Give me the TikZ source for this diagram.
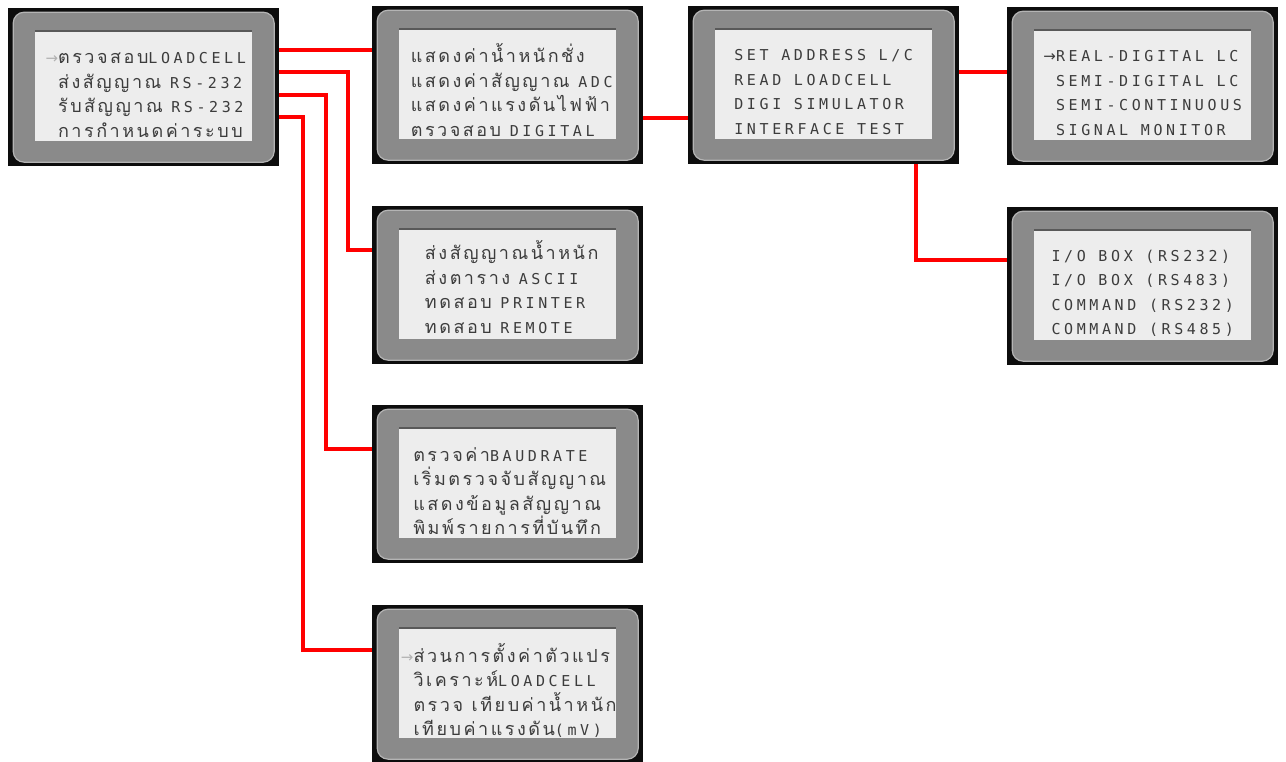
\documentclass[tikz,border=0pt]{standalone}
\usepackage{fontspec}
\newfontfamily\lcdthai[Script=Thai,LetterSpace=14]{Loma}
\newfontfamily\lcdlat[LetterSpace=24]{DejaVu Sans Mono}
\newfontfamily\symfont{DejaVu Sans}
\newcommand{\lat}[1]{{\lcdlat\fontsize{15}{24.5}\selectfont #1}}
\newcommand{\cursor}{{\symfont\fontsize{15}{24.5}\selectfont\color{black!30}→}}
\newcommand{\darkcursor}{{\symfont\fontsize{15}{24.5}\selectfont →}}
\newcommand{\gap}{\hphantom{\cursor}}
\definecolor{lcdframe}{HTML}{8A8A8A}
\definecolor{lcdrim}{HTML}{B4B4B4}
\definecolor{lcdscreen}{HTML}{EDEDED}
\definecolor{lcdink}{HTML}{3C3C3C}
\tikzset{
  lcd/.style={rectangle, fill=black!95, inner sep=0pt, anchor=north west,
    minimum width=271pt, minimum height=158pt,
    path picture={
      \fill[lcdframe, draw=lcdrim, line width=1.2pt, rounded corners=11pt]
        ([shift={(5pt,-4pt)}]path picture bounding box.north west) rectangle
        ([shift={(-5pt,4pt)}]path picture bounding box.south east);
      \fill[lcdscreen]
        ([shift={(27pt,-23pt)}]path picture bounding box.north west) rectangle
        ([shift={(-27pt,25pt)}]path picture bounding box.south east);
      \draw[black!65, line width=1.5pt]
        ([shift={(27pt,-23pt)}]path picture bounding box.north west) --
        ([shift={(-27pt,-23pt)}]path picture bounding box.north east);
    }},
  lcdtext/.style={align=left, text=lcdink, inner sep=0pt,
    font=\lcdthai\fontsize{18}{24.5}\selectfont},
  link/.style={red, line width=4pt},
}

\begin{document}
\begin{tikzpicture}[x=1pt,y=-1pt]
  \useasboundingbox (0,0) rectangle (1286,762);
  % screens
  \node[lcd] (mainmenu) at (8,8) {};
  \node[lcd] (loadmenu) at (372,6) {};
  \node[lcd] (sendmenu) at (372,206) {};
  \node[lcd] (rs232menu) at (372,405) {};
  \node[lcd] (setmenu) at (372,605) {};
  \node[lcd] (digimenu) at (688,6) {};
  \node[lcd] (lcmenu) at (1007,7) {};
  \node[lcd] (ifacemenu) at (1007,207) {};
  % texts
  \node[lcdtext] (maintext) at ([xshift=2pt,yshift=-8pt]mainmenu.center)
  {\cursor ตรวจสอบ\lat{LOADCELL}\\ \gap ส่งสัญญาณ \lat{RS-232}\\
   \gap รับสัญญาณ \lat{RS-232}\\ \gap การกำหนดค่าระบบ};
  \node[lcdtext] (loadtext) at ([xshift=4pt,yshift=-5pt]loadmenu.center)
  {แสดงค่าน้ำหนักชั่ง\\ แสดงค่าสัญญาณ \lat{ADC}\\
   แสดงค่าแรงดันไฟฟ้า\\ ตรวจสอบ \lat{DIGITAL}};
  \node[lcdtext] (sendtext) at ([xshift=4pt,yshift=-2pt]sendmenu.center)
  {ส่งสัญญาณน้ำหนัก\\ ส่งตาราง \lat{ASCII}\\
   ทดสอบ \lat{PRINTER}\\ ทดสอบ \lat{REMOTE}};
  \node[lcdtext] (rs232text) at ([xshift=2pt,yshift=-7pt]rs232menu.center)
  {ตรวจค่า\lat{BAUDRATE}\\ เริ่มตรวจจับสัญญาณ\\
   แสดงข้อมูลสัญญาณ\\ พิมพ์รายการที่บันทึก};
  \node[lcdtext] (settext) at ([xshift=1pt,yshift=-6pt]setmenu.center)
  {\cursor ส่วนการตั้งค่าตัวแปร\\ \gap วิเคราะห์\lat{LOADCELL}\\
   \gap ตรวจ เทียบค่าน้ำหนัก\\ \gap เทียบค่าแรงดัน\lat{(mV)}};
  \node[lcdtext] (digitext) at ([yshift=-7pt]digimenu.center)
  {\lat{SET ADDRESS L/C}\\ \lat{READ LOADCELL}\\
   \lat{DIGI SIMULATOR}\\ \lat{INTERFACE TEST}};
  \node[lcdtext] (lctext) at ([yshift=-7pt]lcmenu.center)
  {\darkcursor\lat{REAL-DIGITAL LC}\\ \gap\lat{SEMI-DIGITAL LC}\\
   \gap\lat{SEMI-CONTINUOUS}\\ \gap\lat{SIGNAL MONITOR}};
  \node[lcdtext] (ifacetext) at ([yshift=-7pt]ifacemenu.center)
  {\lat{I/O BOX (RS232)}\\ \lat{I/O BOX (RS483)}\\
   \lat{COMMAND (RS232)}\\ \lat{COMMAND (RS485)}};
  % links
  \draw[link] ([yshift=37pt]mainmenu.east) -- ([yshift=37pt]mainmenu.east -| loadmenu.west);
  \draw[link] ([yshift=15pt]mainmenu.east) -| ([xshift=-24pt,yshift=35pt]sendmenu.west)
    -- ([yshift=35pt]sendmenu.west);
  \draw[link] ([yshift=-8pt]mainmenu.east) -| ([xshift=-46pt,yshift=35pt]rs232menu.west)
    -- ([yshift=35pt]rs232menu.west);
  \draw[link] ([yshift=-30pt]mainmenu.east) -| ([xshift=-69pt,yshift=34pt]setmenu.west)
    -- ([yshift=34pt]setmenu.west);
  \draw[link] ([yshift=-33pt]loadmenu.east) -- ([yshift=-33pt]loadmenu.east -| digimenu.west);
  \draw[link] ([yshift=13pt]digimenu.east) -- ([yshift=13pt]digimenu.east -| lcmenu.west);
  \draw[link] ([xshift=92pt]digimenu.south) |- ([yshift=26pt]ifacemenu.west);
\end{tikzpicture}
\end{document}
